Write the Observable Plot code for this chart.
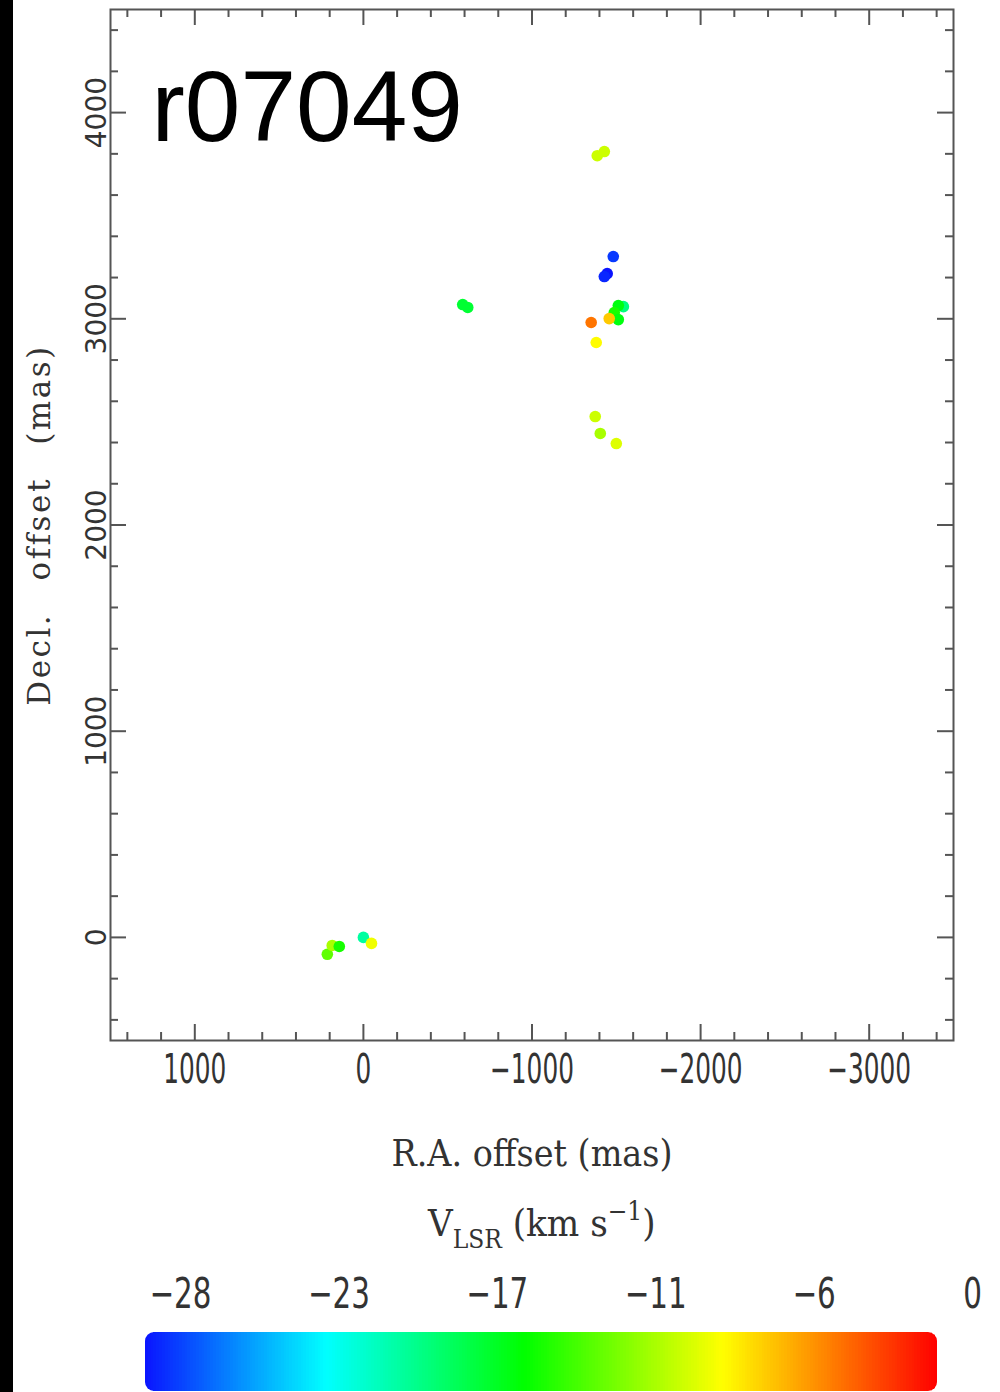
<!DOCTYPE html>
<html>
<head>
<meta charset="utf-8">
<script src="https://cdn.jsdelivr.net/npm/d3@7"></script>
<script src="https://cdn.jsdelivr.net/npm/@observablehq/plot@0.6"></script>
<style>
  html, body { margin: 0; padding: 0; background: #fff; }
  #wrap { position: relative; width: 1000px; height: 1392px; overflow: hidden; background: #fff; }
  #strip { position: absolute; left: 0; top: 0; width: 13px; height: 1392px; background: #000; z-index: 5; }
  #main, #cbar { display: block; }
  #vlabel { position: relative; height: 72px; }
  #vlabel span.lab { position: absolute; left: 428px; top: 6px; font-family: "DejaVu Serif", serif; font-size: 38px; color: #333;
    white-space: nowrap; transform: scaleX(0.9); transform-origin: 0 0; }
  #vlabel sub { font-size: 26px; vertical-align: -12px; }
  #vlabel sup { font-size: 26px; vertical-align: 16px; }
  g[aria-description="ylabel"] text { letter-spacing: 2.5px; word-spacing: 20px; }
</style>
</head>
<body>
<div id="wrap">
  <div id="strip"></div>
  <div id="main"></div>
  <div id="vlabel"><span class="lab">V<sub>LSR</sub> (km s<sup>−1</sup>)</span></div>
  <div id="cbar"></div>
</div>
<script>
// ---- data ----
const raOffset  = [-1387, -1429, -1482, -1446, -1429, -1542, -1512, -1488, -1512, -1458, -1351, -1381, -1375, -1405, -1500, -589, -619, 214, 185, 143, 0, -48];
const decOffset = [3791, 3811, 3302, 3219, 3205, 3059, 3064, 3030, 2996, 3001, 2982, 2885, 2526, 2444, 2395, 3069, 3055, -82, -39, -44, 0, -29];
const vlsr      = [-9, -9, -27, -28, -27.5, -18, -15, -14, -15, -6, -3.5, -7.5, -9, -10, -8.5, -16, -16, -12, -10, -14, -19, -8];

const xMajor = [1000, 0, -1000, -2000, -3000];
const xMinor = [1400, 1200, 800, 600, 400, 200, -200, -400, -600, -800, -1200, -1400, -1600, -1800, -2200, -2400, -2600, -2800, -3200, -3400];
const yMajor = [0, 1000, 2000, 3000, 4000];
const yMinor = [-400, -200, 200, 400, 600, 800, 1200, 1400, 1600, 1800, 2200, 2400, 2600, 2800, 3200, 3400, 3600, 3800, 4200, 4400];

const cbTickValues = [-28, -22.4, -16.8, -11.2, -5.6, 0];
const cbTickLabels = ["−28", "−23", "−17", "−11", "−6", "0"];
const colorStops = [-28, -21.6, -14.6, -7.6, 0];
const colorRange = ["#0a14ff", "#00ffff", "#00ff00", "#ffff00", "#ff0000"];

const titleText = "r07049";
const xLabel = "R.A. offset (mas)";
const yLabel = "Decl. offset (mas)";

const points = raOffset.map((x, i) => ({ra: x, dec: decOffset[i], v: vlsr[i]}));

// ---- layout ----
const W = 1000, H = 1190, mL = 110, mR = 47, mT = 9, mB = 150;
const frameH = H - mT - mB, frameW = W - mL - mR;
const axisColor = "#555";
const textColor = "#333";
const colorScale = {type: "linear", domain: colorStops, range: colorRange, interpolate: "rgb"};
const fmt = d => d < 0 ? "−" + (-d) : String(d);

// horizontal squeeze of text glyphs (the original uses narrow plotter fonts)
function squeeze(svg, label, s) {
  svg.querySelectorAll(`g[aria-description="${label}"] text`).forEach(t => {
    const tr = t.getAttribute("transform") || "";
    const x = +(t.getAttribute("x") || 0);
    t.setAttribute("transform", `${tr} translate(${x},0) scale(${s},1) translate(${-x},0)`);
  });
}

const main = Plot.plot({
  width: W, height: H,
  marginLeft: mL, marginRight: mR, marginTop: mT, marginBottom: mB,
  x: {domain: [1500, -3500], axis: null},
  y: {domain: [-500, 4500], axis: null},
  color: colorScale,
  style: {background: "transparent", overflow: "visible"},
  marks: [
    // minor ticks
    Plot.ruleX(xMinor, {x: d => d, insetTop: frameH - 8, stroke: axisColor, strokeWidth: 2}),
    Plot.ruleX(xMinor, {x: d => d, insetBottom: frameH - 8, stroke: axisColor, strokeWidth: 2}),
    Plot.ruleY(yMinor, {y: d => d, insetRight: frameW - 8, stroke: axisColor, strokeWidth: 2}),
    Plot.ruleY(yMinor, {y: d => d, insetLeft: frameW - 8, stroke: axisColor, strokeWidth: 2}),
    // major ticks
    Plot.ruleX(xMajor, {x: d => d, insetTop: frameH - 16, stroke: axisColor, strokeWidth: 2}),
    Plot.ruleX(xMajor, {x: d => d, insetBottom: frameH - 16, stroke: axisColor, strokeWidth: 2}),
    Plot.ruleY(yMajor, {y: d => d, insetRight: frameW - 16, stroke: axisColor, strokeWidth: 2}),
    Plot.ruleY(yMajor, {y: d => d, insetLeft: frameW - 16, stroke: axisColor, strokeWidth: 2}),
    Plot.frame({stroke: axisColor, strokeWidth: 2}),
    // tick labels
    Plot.text(xMajor, {x: d => d, text: fmt, frameAnchor: "bottom", dy: 30, lineAnchor: "middle", textAnchor: "middle",
      fontSize: 40, fontFamily: "'DejaVu Sans', sans-serif", fill: textColor, ariaDescription: "xtick"}),
    Plot.text(yMajor, {y: d => d, text: fmt, frameAnchor: "left", dx: -13, rotate: -90, lineAnchor: "middle", textAnchor: "middle",
      fontSize: 28, fontFamily: "'DejaVu Sans', sans-serif", fill: textColor, ariaDescription: "ytick"}),
    // axis labels
    Plot.text([xLabel], {frameAnchor: "bottom", dy: 113, lineAnchor: "middle", textAnchor: "middle", fontSize: 38, text: d => d,
      fontFamily: "'DejaVu Serif', serif", fill: textColor, ariaDescription: "xlabel"}),
    Plot.text([yLabel], {frameAnchor: "left", dx: -70, rotate: -90, lineAnchor: "middle", textAnchor: "middle", text: d => d,
      fontSize: 31, fontFamily: "'DejaVu Serif', serif", fill: textColor, ariaDescription: "ylabel"}),
    // title
    Plot.text([titleText], {frameAnchor: "top-left", dx: 41, dy: 99, lineAnchor: "middle", textAnchor: "start",
      text: d => d, fontSize: 100, fontFamily: "'Liberation Sans', Arial, sans-serif", fill: "#000", ariaDescription: "title"}),
    // maser spots
    Plot.dot(points, {x: "ra", y: "dec", fill: "v", r: 5.8, stroke: null})
  ]
});
squeeze(main, "xtick", 0.62);
squeeze(main, "xlabel", 0.88);
document.getElementById("main").appendChild(main);

// ---- colour bar ----
const cbSteps = d3.range(-28, 0, 0.1);
const cb = Plot.plot({
  width: 1000, height: 130,
  marginLeft: 145, marginRight: 63, marginTop: 70, marginBottom: 1,
  x: {domain: [-28, 0], axis: null},
  y: {domain: [0, 1], axis: null},
  color: colorScale,
  style: {background: "transparent", overflow: "visible"},
  marks: [
    Plot.rect(cbSteps, {x1: d => d, x2: d => Math.min(0, d + 0.12), y1: 0, y2: 1, fill: d => d + 0.05, shapeRendering: "crispEdges"}),
    Plot.text(cbTickValues, {x: d => d, text: (d, i) => cbTickLabels[i], frameAnchor: "top", dy: -38, dx: 35,
      lineAnchor: "middle", textAnchor: "middle",
      fontSize: 42, fontFamily: "'DejaVu Sans', sans-serif", fill: textColor, ariaDescription: "cbtick"})
  ]
});
squeeze(cb, "cbtick", 0.7);
// rounded corners for the bar
(function () {
  const ns = "http://www.w3.org/2000/svg";
  const sx = cb.scale("x"), sy = cb.scale("y");
  const x0 = sx.apply(-28), x1 = sx.apply(0), y0 = sy.apply(1), y1 = sy.apply(0);
  const defs = document.createElementNS(ns, "defs");
  const cp = document.createElementNS(ns, "clipPath");
  cp.setAttribute("id", "cbclip");
  const r = document.createElementNS(ns, "rect");
  r.setAttribute("x", x0); r.setAttribute("y", y0);
  r.setAttribute("width", x1 - x0); r.setAttribute("height", y1 - y0);
  r.setAttribute("rx", 9); r.setAttribute("ry", 9);
  cp.appendChild(r); defs.appendChild(cp); cb.insertBefore(defs, cb.firstChild);
  const g = cb.querySelector('g[aria-label="rect"]');
  if (g) g.setAttribute("clip-path", "url(#cbclip)");
})();
document.getElementById("cbar").appendChild(cb);
</script>
</body>
</html>
